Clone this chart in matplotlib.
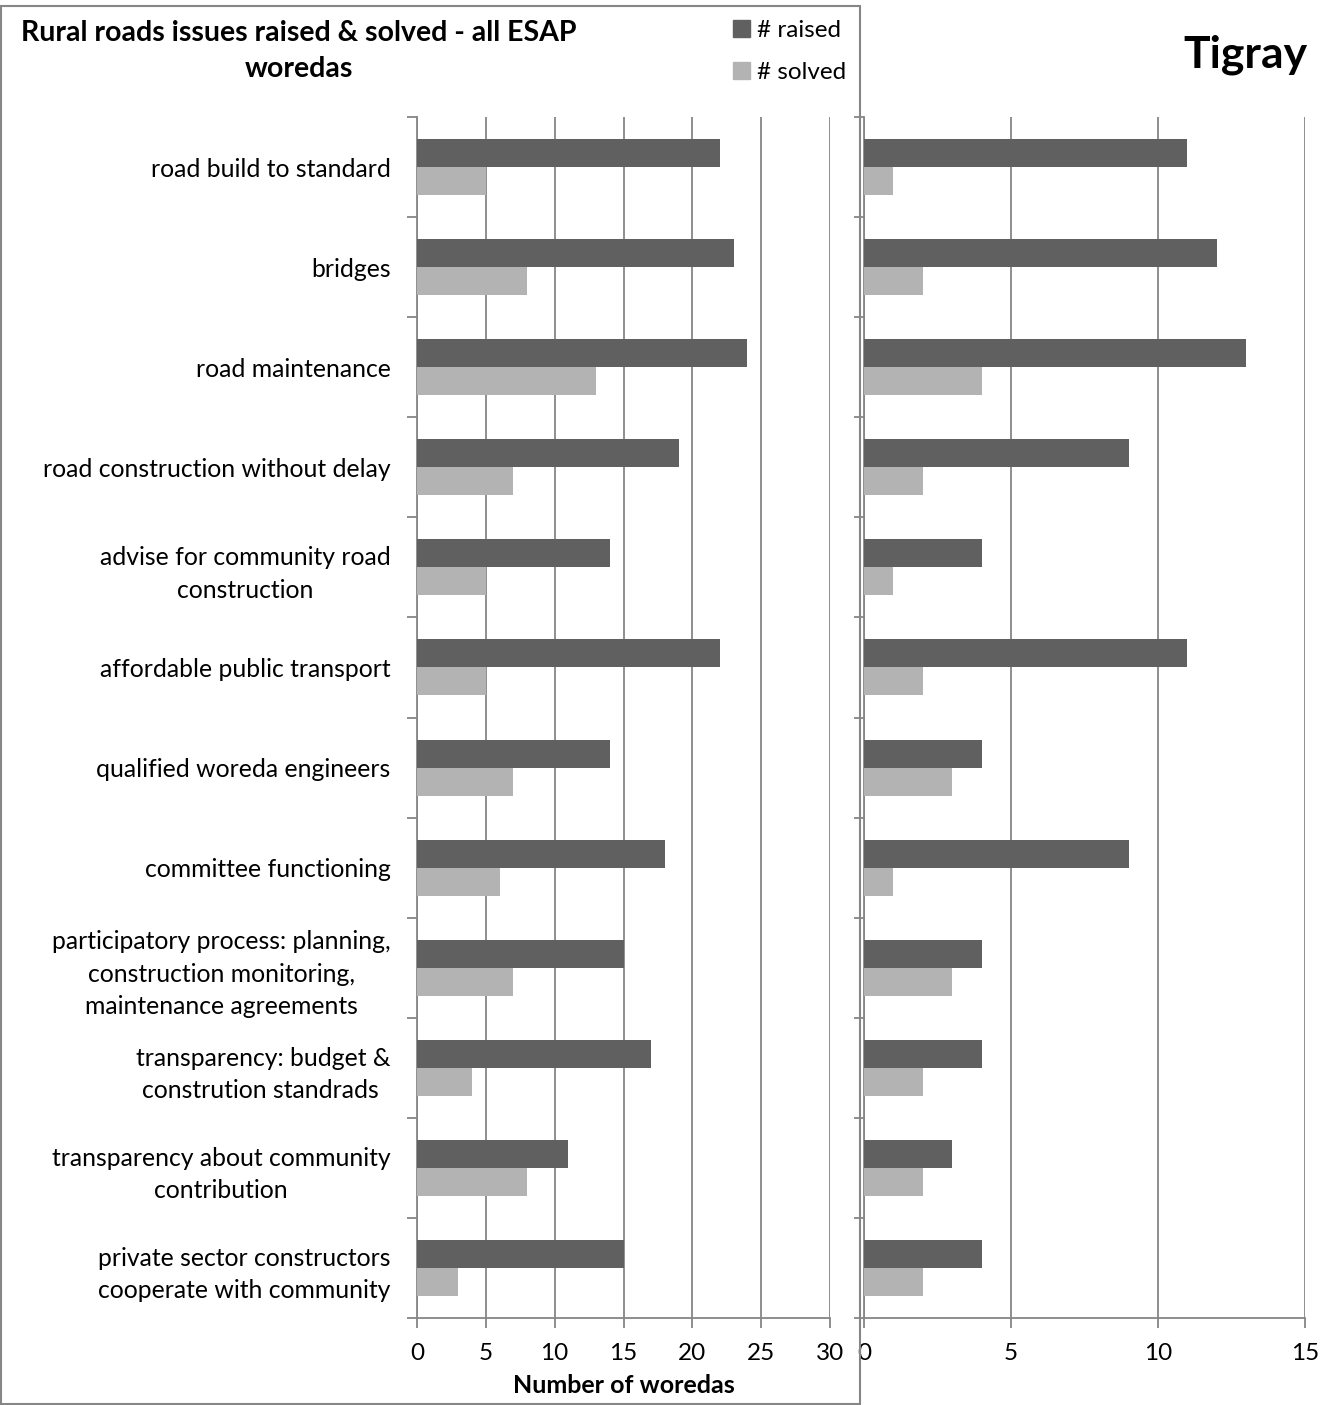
import numpy as np
import matplotlib
matplotlib.use("Agg")
import matplotlib.pyplot as plt
from matplotlib.patches import Rectangle, Patch

plt.rcParams['font.family'] = ['Lato', 'DejaVu Sans']

categories = [
    "road build to standard",
    "bridges",
    "road maintenance",
    "road construction without delay",
    "advise for community road\nconstruction",
    "affordable public transport",
    "qualified woreda engineers",
    "committee functioning",
    "participatory process: planning,\nconstruction monitoring,\nmaintenance agreements",
    "transparency: budget &\nconstrution standrads ",
    "transparency about community\ncontribution",
    "private sector constructors\ncooperate with community",
]
all_raised = [22, 23, 24, 19, 14, 22, 14, 18, 15, 17, 11, 15]
all_solved = [5, 8, 13, 7, 5, 5, 7, 6, 7, 4, 8, 3]
tigray_raised = [11, 12, 13, 9, 4, 11, 4, 9, 4, 4, 3, 4]
tigray_solved = [1, 2, 4, 2, 1, 2, 3, 1, 3, 2, 2, 2]

dark = '#606060'
light = '#b3b3b3'
grid_c = '#868686'

W, H = 1333, 1405
fig = plt.figure(figsize=(W / 100, H / 100), dpi=100)

y = np.arange(len(categories))
bh = 0.28


def setup(ax, raised, solved, xmax, step):
    ax.barh(y - 0.14, raised, height=bh, color=dark, zorder=3)
    ax.barh(y + 0.14, solved, height=bh, color=light, zorder=3)
    ax.set_xlim(0, xmax)
    ax.set_ylim(len(categories) - 0.5, -0.5)
    ax.set_xticks(np.arange(0, xmax + 1, step))
    ax.grid(axis='x', color=grid_c, linewidth=1.3, zorder=0)
    for s in ['top', 'right']:
        ax.spines[s].set_visible(False)
    for s in ['left', 'bottom']:
        ax.spines[s].set_color(grid_c)
        ax.spines[s].set_linewidth(1.3)
    ax.set_yticks(np.arange(-0.5, len(categories) + 0.5, 1))
    ax.set_yticklabels([])
    ax.tick_params(axis='y', which='major', length=7, color=grid_c, width=1.3)
    ax.tick_params(axis='x', length=7, color=grid_c, width=1.3, labelsize=17.5, pad=11)


ax1 = fig.add_axes([417 / W, 1 - 1318 / H, 413 / W, 1201 / H])
ax2 = fig.add_axes([864 / W, 1 - 1318 / H, 441 / W, 1201 / H])

setup(ax1, all_raised, all_solved, 30, 5)
setup(ax2, tigray_raised, tigray_solved, 15, 5)

# category labels, centred in each slot
ax1.set_yticks(y, minor=True)
ax1.set_yticklabels(categories, minor=True)
ax1.tick_params(axis='y', which='minor', length=0, labelsize=17.8, pad=19)
for lab in ax1.get_yticklabels(minor=True):
    lab.set_multialignment('center')
    lab.set_linespacing(1.5)

ax1.set_xlabel("Number of woredas", fontsize=18, fontweight='bold', labelpad=7)

# box round the left chart
fig.patches.append(Rectangle((1 / W, 1 / H), 859 / W, 1 - 7 / H, transform=fig.transFigure,
                             fill=False, edgecolor=grid_c, linewidth=1.5))

fig.text(299 / W, 1 - 51 / H, "Rural roads issues raised & solved - all ESAP\nworedas",
         ha='center', va='center', fontsize=20.5, fontweight='bold', linespacing=1.5)
fig.text(1245 / W, 1 - 55 / H, "Tigray", ha='center', va='center', fontsize=32, fontweight='bold')

handles = [Patch(color=dark, label='# raised'), Patch(color=light, label='# solved')]
fig.legend(handles=handles, loc='upper left', bbox_to_anchor=(711 / W, 1 + 2 / H),
           frameon=False, fontsize=17.5, handlelength=0.7, handleheight=0.7,
           handletextpad=0.3, labelspacing=0.85)

fig.savefig('out.png', dpi=100)
